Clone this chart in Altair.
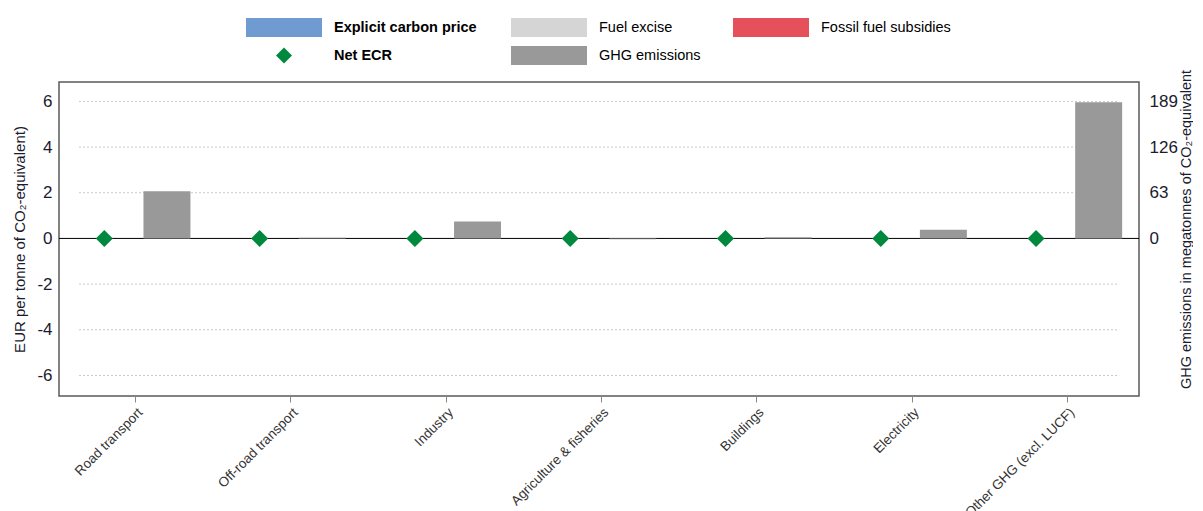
import altair as alt
import pandas as pd

# ---- data ----
sectors = ["Road transport", "Off-road transport", "Industry", "Agriculture & fisheries",
           "Buildings", "Electricity", "Other GHG (excl. LUCF)"]
explicit_price = [0, 0, 0, 0, 0, 0, 0]
fuel_excise = [0, 0, 0, 0, 0, 0, 0]
fossil_subsidies = [0, 0, 0, 0, 0, 0, 0]
net_ecr = [0, 0, 0, 0, 0, 0, 0]
ghg_emissions = [65, 0.8, 23.5, -1.0, 1.5, 12, 188]

left_ticks = [-6, -4, -2, 0, 2, 4, 6]
grid_ticks = [-6, -4, -2, 2, 4, 6]
right_ticks = [0, 63, 126, 189]

legend_labels = ["Explicit carbon price", "Fuel excise", "Fossil fuel subsidies", "Net ECR", "GHG emissions"]
legend_colors = ["#6F9BD1", "#D5D5D5", "#E5505B", "#00883F", "#999999"]

# ---- layout / style ----
W, H = 1080, 314
FONT = "Liberation Sans"
LMIN, LMAX = -6.9, 6.85
RSCALE = 31.5
TXT = "#1b1b2f"

df = pd.DataFrame({
    "sector": sectors,
    "ecr": net_ecr,
    "ghg": ghg_emissions,
    "Explicit carbon price": explicit_price,
    "Fuel excise": fuel_excise,
    "Fossil fuel subsidies": fossil_subsidies,
})

x_enc = alt.X("sector:N", sort=sectors,
              scale=alt.Scale(paddingInner=0, paddingOuter=0, range=[-1, W + 6]),
              axis=alt.Axis(title=None, labelAngle=-45, ticks=True, tickSize=6, tickColor="#888888",
                            domain=False, labelFontSize=13.5, labelColor="#333333", labelPadding=3,
                            labelFont=FONT))
off_scale = alt.Scale(domain=["ECR", "GHG"], paddingInner=0.25, paddingOuter=0.365)

left_scale = alt.Scale(domain=[LMIN, LMAX], nice=False, zero=False)
left_axis = alt.Axis(values=left_ticks, grid=False, ticks=False, domain=False,
                     labelExpr="replace(datum.label, '\u2212', '-')",
                     title="EUR per tonne of CO₂-equivalent)", labelPadding=7, titlePadding=9,
                     labelFontSize=17, labelColor=TXT, titleFontSize=15, titleFontWeight="normal",
                     titleColor=TXT, labelFont=FONT, titleFont=FONT)


def yl(field, **kw):
    return alt.Y(field, scale=left_scale, axis=left_axis, **kw)


grid = alt.Chart(pd.DataFrame({"v": grid_ticks})).mark_rule(
    color="#c8c8c8", strokeDash=[2, 2], strokeWidth=1
).encode(y=yl("v:Q"), x=alt.value(20), x2=alt.value(W - 21))

zero = alt.Chart(pd.DataFrame({"v": [0]})).mark_rule(color="#000000", strokeWidth=1).encode(
    y=yl("v:Q"), x=alt.value(0), x2=alt.value(W))

ecr_bars = alt.Chart(df).transform_fold(
    ["Explicit carbon price", "Fuel excise", "Fossil fuel subsidies"], as_=["comp", "value"]
).transform_calculate(slot="'ECR'").mark_bar().encode(
    x=x_enc,
    xOffset=alt.XOffset("slot:N", scale=off_scale),
    y=yl("value:Q", stack="zero"),
    color=alt.Color("comp:N", scale=alt.Scale(domain=legend_labels[:3], range=legend_colors[:3]), legend=None),
)

points = alt.Chart(df).transform_calculate(slot="'ECR'").mark_point(
    shape="diamond", filled=True, size=290, color="#00883F", opacity=1
).encode(x=x_enc, xOffset=alt.XOffset("slot:N", scale=off_scale), y=yl("ecr:Q"))

left = alt.layer(grid, zero, ecr_bars, points)

right = alt.Chart(df).transform_calculate(slot="'GHG'").mark_bar(color="#999999").encode(
    x=x_enc,
    xOffset=alt.XOffset("slot:N", scale=off_scale),
    y=alt.Y("ghg:Q", scale=alt.Scale(domain=[LMIN * RSCALE, LMAX * RSCALE], nice=False, zero=False),
            axis=alt.Axis(orient="right", values=right_ticks, grid=False, ticks=False, domain=False,
                          title="GHG emissions in megatonnes of CO₂-equivalent", labelPadding=10,
                          titlePadding=2, titleAngle=-90, titleBaseline="top", titleY=147,
                          labelFontSize=17, labelColor=TXT,
                          titleFontSize=14.5, titleFontWeight="normal", titleColor=TXT,
                          labelFont=FONT, titleFont=FONT)),
)

# ---- legend (drawn above the plot) ----
one = lambda s: pd.DataFrame({"label": [s]})
cols_rect = [(187, 263), (452, 528), (674, 750)]
text_x = [275, 540, 762]
rows_y = [(-64, -45), (-36, -17)]
row_c = [-54.5, -26.5]
legend_pos = [(0, 0), (1, 0), (2, 0), (0, 1), (1, 1)]
legend_bold = [True, False, False, True, False]

legend_layers = []
for i, lab in enumerate(legend_labels):
    c, r = legend_pos[i]
    if lab == "Net ECR":
        sw = alt.Chart(one(lab)).mark_point(shape="diamond", filled=True, size=256,
                                            color=legend_colors[i], opacity=1).encode(
            x=alt.value((cols_rect[c][0] + cols_rect[c][1]) / 2), y=alt.value(row_c[r]))
    else:
        sw = alt.Chart(one(lab)).mark_rect(color=legend_colors[i]).encode(
            x=alt.value(cols_rect[c][0]), x2=alt.value(cols_rect[c][1]),
            y=alt.value(rows_y[r][0]), y2=alt.value(rows_y[r][1]))
    tx = alt.Chart(one(lab)).mark_text(
        align="left", baseline="middle", font=FONT, fontSize=14.5,
        fontWeight="bold" if legend_bold[i] else "normal", color="#000000"
    ).encode(x=alt.value(text_x[c]), y=alt.value(row_c[r]), text="label:N")
    legend_layers += [sw, tx]

chart = alt.layer(left, right, *legend_layers).resolve_scale(y="independent").properties(
    width=W, height=H,
    background="white",
    padding={"left": 4, "top": 10, "right": 0, "bottom": 0},
).configure_view(stroke="#595959", strokeWidth=1.5)

chart.save("out.html", embed_options={"renderer": "svg", "actions": False})
